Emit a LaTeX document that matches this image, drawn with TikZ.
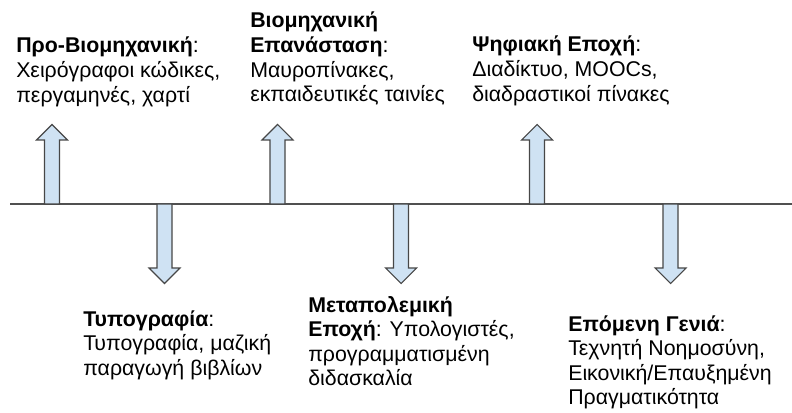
\documentclass[tikz,border=0pt]{standalone}
\usepackage{fontspec}
\setmainfont{Liberation Sans}
\definecolor{arrowfill}{HTML}{CFE2F3}
\definecolor{arrowline}{HTML}{474747}
\definecolor{lineclr}{HTML}{505050}
\tikzset{
  timeline/.style={draw=lineclr, line width=1.1pt},
  eraarrow/.style={fill=arrowfill, draw=arrowline, line width=0.8pt, line join=miter},
  eratext/.style={anchor=base west, inner sep=0pt, font=\fontsize{16}{18.4}\selectfont},
  uparrow/.pic={\path[eraarrow] (-7.5,0) -- (-7.5,-64) -- (-15.5,-64) -- (0,-79.5)
                 -- (15.5,-64) -- (7.5,-64) -- (7.5,0) -- cycle;},
  downarrow/.pic={\path[eraarrow] (-7.5,0) -- (-7.5,64) -- (-15.5,64) -- (0,79.5)
                 -- (15.5,64) -- (7.5,64) -- (7.5,0) -- cycle;}
}
\newcommand{\eralines}[1]{\begin{tabular}[t]{@{}l@{}}#1\end{tabular}}
\begin{document}
\begin{tikzpicture}[x=0.75pt, y=-0.75pt]
  \useasboundingbox (0,0) rectangle (792,413);

  % time axis
  \coordinate (start) at (10,204);
  \coordinate (end) at (792,204);
  \draw[timeline] (start) -- (end);

  % markers on the axis
  \coordinate (m1) at (52,204);
  \coordinate (m2) at (164.5,204);
  \coordinate (m3) at (277.5,204);
  \coordinate (m4) at (401,204);
  \coordinate (m5) at (537,204);
  \coordinate (m6) at (670.5,204);
  \pic at (m1) {uparrow};
  \pic at (m2) {downarrow};
  \pic at (m3) {uparrow};
  \pic at (m4) {downarrow};
  \pic at (m5) {uparrow};
  \pic at (m6) {downarrow};

  % era descriptions
  \node[eratext] (pre) at (16,53) {\eralines{\textbf{Προ-Βιομηχανική}:\\
      Χειρόγραφοι κώδικες,\\ περγαμηνές, χαρτί}};
  \node[eratext] (typo) at (83,326) {\eralines{\textbf{Τυπογραφία}:\\
      Τυπογραφία, μαζική\\ παραγωγή βιβλίων}};
  \node[eratext] (indus) at (250,28) {\eralines{\textbf{Βιομηχανική}\\
      \textbf{Επανάσταση}:\\ Μαυροπίνακες,\\ εκπαιδευτικές ταινίες}};
  \node[eratext] (post) at (308,312) {\eralines{\textbf{Μεταπολεμική}\\
      \textbf{Εποχή}: Υπολογιστές,\\ προγραμματισμένη\\ διδασκαλία}};
  \node[eratext] (digital) at (472,52) {\eralines{\textbf{Ψηφιακή Εποχή}:\\
      Διαδίκτυο, MOOCs,\\ διαδραστικοί πίνακες}};
  \node[eratext] (next) at (568,331) {\eralines{\textbf{Επόμενη Γενιά}:\\
      Τεχνητή Νοημοσύνη,\\ Εικονική/Επαυξημένη\\ Πραγματικότητα}};
\end{tikzpicture}
\end{document}
